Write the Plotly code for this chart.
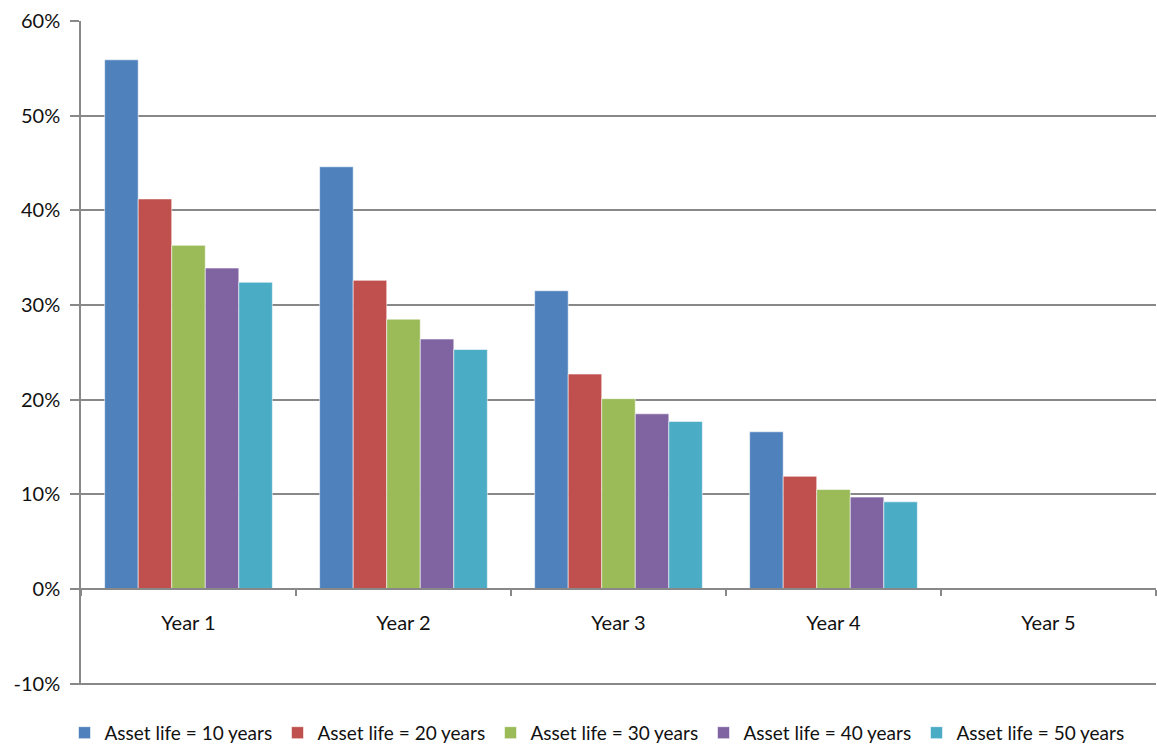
import plotly.graph_objects as go

# Depreciation share by year for different asset lives
years = ["Year 1", "Year 2", "Year 3", "Year 4", "Year 5"]
life_10 = [55.9, 44.6, 31.5, 16.6, 0]
life_20 = [41.2, 32.6, 22.7, 11.9, 0]
life_30 = [36.3, 28.5, 20.1, 10.5, 0]
life_40 = [33.9, 26.4, 18.5, 9.7, 0]
life_50 = [32.4, 25.3, 17.7, 9.2, 0]

y_ticks = [-10, 0, 10, 20, 30, 40, 50, 60]
y_tick_labels = ["-10%", "0%", "10%", "20%", "30%", "40%", "50%", "60%"]

series = [
    ("Asset life = 10 years", life_10, "#4F81BD"),
    ("Asset life = 20 years", life_20, "#C0504D"),
    ("Asset life = 30 years", life_30, "#9BBB59"),
    ("Asset life = 40 years", life_40, "#8064A2"),
    ("Asset life = 50 years", life_50, "#4BACC6"),
]

FONT = "Lato, 'Open Sans', sans-serif"
GRID = "#888888"
TEXT = "#111111"

fig = go.Figure()
for name, vals, color in series:
    fig.add_trace(go.Bar(
        x=years, y=vals, name=name,
        marker=dict(color=color, line=dict(color="rgba(255,255,255,0.55)", width=1)),
    ))

# lower bound sits a hair below -10% so its gridline is kept
y_min, y_max = -10.15, 60

fig.update_layout(
    width=1157, height=745,
    margin=dict(l=81, r=1, t=21, b=60, autoexpand=False),
    paper_bgcolor="white", plot_bgcolor="white",
    barmode="group", bargap=0.22, bargroupgap=0,
    font=dict(family=FONT, size=20, color=TEXT),
    showlegend=True,
    legend=dict(
        orientation="h", x=0.48, xanchor="center", y=-0.072, yanchor="middle",
        font=dict(family=FONT, size=19, color=TEXT),
        entrywidth=168, itemclick=False, traceorder="normal",
    ),
    # category axis sits on the 0% line
    xaxis=dict(
        anchor="free", position=(0 - y_min) / (y_max - y_min),
        showline=True, linecolor=GRID, linewidth=1.5,
        ticks="outside", tickson="boundaries", ticklen=6, tickcolor=GRID, tickwidth=1.5,
        showgrid=False, ticklabelstandoff=16,
        tickfont=dict(family=FONT, size=20, color=TEXT),
    ),
    yaxis=dict(
        range=[y_min, y_max], tickvals=y_ticks, ticktext=y_tick_labels,
        showgrid=True, gridcolor=GRID, gridwidth=1.5,
        zeroline=False,
        showline=True, linecolor=GRID, linewidth=1.5,
        ticks="outside", ticklen=9, tickcolor=GRID, tickwidth=1.5,
        ticklabelstandoff=6,
        tickfont=dict(family=FONT, size=20, color=TEXT),
    ),
)

fig.write_html("out.html")
